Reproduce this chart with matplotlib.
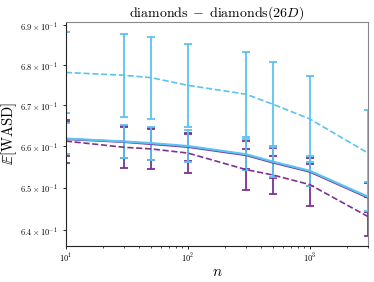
import matplotlib
matplotlib.use("Agg")
import matplotlib.pyplot as plt
from matplotlib.ticker import FixedLocator, FixedFormatter, NullLocator

plt.rcParams['mathtext.fontset'] = 'cm'
plt.rcParams['font.family'] = 'serif'
plt.rcParams['font.serif'] = ['cmr10', 'DejaVu Serif']
plt.rcParams['axes.formatter.use_mathtext'] = True

# данные
n = [10, 30, 50, 100, 300, 500, 1000, 3000]

blue_dash = [0.6781, 0.6774, 0.6768, 0.6749, 0.6727, 0.6702, 0.6666, 0.6583]
blue_dash_err = [0.0101, 0.0103, 0.0103, 0.0103, 0.0104, 0.0104, 0.0105, 0.0104]

blue_solid = [0.6618, 0.6611, 0.6607, 0.6600, 0.6580, 0.6562, 0.6540, 0.6478]
blue_solid_err = [0.0038, 0.0041, 0.0040, 0.0039, 0.0037, 0.0037, 0.0036, 0.0035]

purple_solid = [0.6617, 0.6610, 0.6605, 0.6598, 0.6578, 0.6560, 0.6538, 0.6476]
purple_solid_err = [0.0041, 0.0040, 0.0040, 0.0034, 0.0034, 0.0036, 0.0034, 0.0034]

purple_dash = [0.6612, 0.6597, 0.6593, 0.6583, 0.6543, 0.6530, 0.6507, 0.6431]
purple_dash_err = [0.0052, 0.0050, 0.0049, 0.0047, 0.0049, 0.0045, 0.0050, 0.0046]

yticks = [0.64, 0.65, 0.66, 0.67, 0.68, 0.69]
ytick_labels = [r'$6.4\times10^{-1}$', r'$6.5\times10^{-1}$', r'$6.6\times10^{-1}$',
                r'$6.7\times10^{-1}$', r'$6.8\times10^{-1}$', r'$6.9\times10^{-1}$']

BLUE = '#5bc3f0'
PURPLE = '#7b3294'

fig = plt.figure(figsize=(3.74, 2.82), dpi=100)
ax = fig.add_axes([0.176, 0.128, 0.808, 0.794])

eb = dict(capsize=2.6, capthick=1.3, elinewidth=1.3)
ax.errorbar(n, purple_dash, yerr=purple_dash_err, color=PURPLE, ls='--', lw=1.2, **eb)
ax.errorbar(n, purple_solid, yerr=purple_solid_err, color=PURPLE, ls='-', lw=1.6, **eb)
ax.errorbar(n, blue_dash, yerr=blue_dash_err, color=BLUE, ls='--', lw=1.2, **eb)
ax.errorbar(n, blue_solid, yerr=blue_solid_err, color=BLUE, ls='-', lw=1.6, **eb)

ax.set_xscale('log')
ax.set_yscale('log')
ax.set_xlim(10, 3000)
ax.set_ylim(0.6362, 0.6908)

ax.yaxis.set_major_locator(FixedLocator(yticks))
ax.yaxis.set_major_formatter(FixedFormatter(ytick_labels))
ax.yaxis.set_minor_locator(NullLocator())
ax.tick_params(axis='both', which='major', labelsize=6, length=2.5, width=0.6)
ax.tick_params(axis='both', which='minor', length=1.5, width=0.5)
ax.tick_params(axis='x', which='major', pad=2)

for s in ['top', 'right']:
    ax.spines[s].set_color('#888888')
for s in ['left', 'bottom']:
    ax.spines[s].set_color('#222222')

ax.set_title(r'$\mathrm{diamonds}\;-\;\mathrm{diamonds}(26D)$', fontsize=10, pad=4)
ax.set_xlabel(r'$n$', fontsize=11, labelpad=0)
ax.set_ylabel(r'$\mathbb{E}[\mathrm{WASD}]$', fontsize=10.5)
ax.yaxis.set_label_coords(-0.155, 0.5)

fig.savefig('out.png', dpi=100)
